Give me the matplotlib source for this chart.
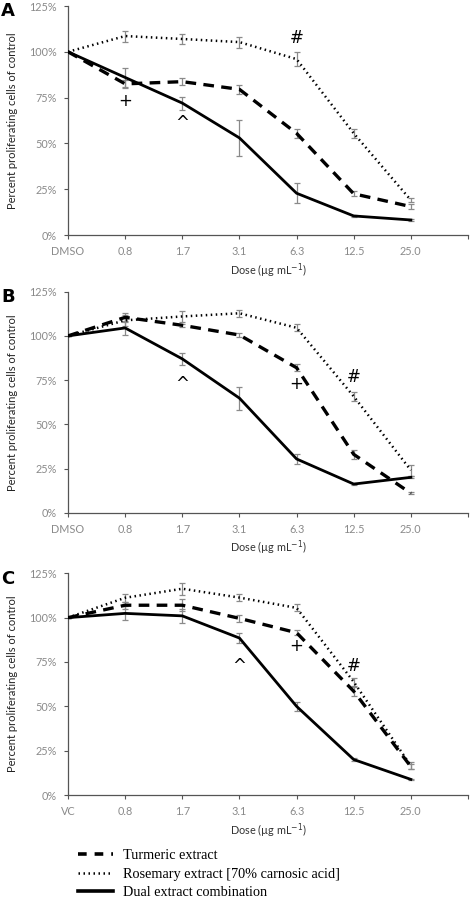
import matplotlib.pyplot as plt
import numpy as np
from matplotlib.lines import Line2D

plt.rcParams['font.family'] = ['Lato', 'DejaVu Sans']

doses = ['0.8', '1.7', '3.1', '6.3', '12.5', '25.0']
controls = ['DMSO', 'DMSO', 'VC']
panels = ['A', 'B', 'C']

# Turmeric extract (dashed)
turm = [
    [100, 82.5, 83.7, 79.5, 55.5, 22.5, 15.5],
    [100, 110.5, 106, 100.5, 82, 33, 11],
    [100, 107, 107, 99.6, 91.5, 58.5, 16],
]
turm_err = [
    [0, 2, 2, 2.5, 2.5, 1.3, 1.5],
    [0, 2.5, 1, 1, 2, 2.5, 0.5],
    [0, 2, 3.5, 2, 1.5, 2.5, 1.5],
]
# Rosemary extract (dotted)
rose = [
    [100, 108.6, 107, 105.3, 96, 55.5, 19],
    [100, 108.8, 111, 112.8, 104.6, 65.8, 24],
    [100, 111.2, 116.3, 111.3, 105.5, 63.8, 16.5],
]
rose_err = [
    [0, 3, 2.5, 3, 4, 2.5, 1],
    [0, 3, 3, 2, 2, 2.5, 3],
    [0, 2.2, 3.5, 2, 2, 2.2, 2],
]
# Dual extract combination (solid)
dual = [
    [100, 86, 72, 53, 22.8, 10.4, 8.2],
    [100, 104.5, 87, 64.8, 30.4, 16.2, 20],
    [100, 102.4, 101, 88.5, 50, 20, 8.8],
]
dual_err = [
    [0, 5, 3.5, 10, 5.5, 0.5, 0.5],
    [0, 4, 3.5, 6.5, 3, 0.5, 0.5],
    [0, 4, 4, 3, 2.5, 1, 0.5],
]
# significance symbols: (symbol, dose index, y %)
marks = [
    [('+', 1, 73), ('^', 2, 61), ('#', 4, 107.5)],
    [('^', 2, 73), ('+', 4, 73), ('#', 5, 76.5)],
    [('^', 3, 73), ('+', 4, 84), ('#', 5, 73)],
]

W, H = 472, 899
fig = plt.figure(figsize=(W / 100, H / 100), dpi=100)
boxes = [(6, 235), (291.7, 512.7), (573.3, 795)]
grey = '#8a8a8a'

for i, (top, bot) in enumerate(boxes):
    ax = fig.add_axes([68 / W, 1 - bot / H, (468 - 68) / W, (bot - top) / H])
    x = np.arange(len(doses) + 1)
    for y, e in [(turm[i], turm_err[i]), (rose[i], rose_err[i]), (dual[i], dual_err[i])]:
        ax.errorbar(x, y, yerr=e, fmt='none', ecolor=grey, elinewidth=0.9,
                    capsize=2, capthick=0.9, zorder=2)
    ax.plot(x, turm[i], color='black', lw=2.4, dashes=(3.2, 2.2), zorder=3)
    ax.plot(x, rose[i], color='black', lw=1.8, dashes=(0.6, 1.4), zorder=3)
    ax.plot(x, dual[i], color='black', lw=2.0, zorder=3)
    for sym, k, yy in marks[i]:
        ax.text(k, yy, sym, ha='center', va='center', fontsize=12,
                family='DejaVu Sans', color='black')

    ax.set_xlim(0, 7)
    ax.set_ylim(0, 125)
    ax.set_xticks(np.arange(8))
    ax.set_xticklabels([controls[i]] + doses + [''])
    ax.set_yticks([0, 25, 50, 75, 100, 125])
    ax.set_yticklabels(['0%', '25%', '50%', '75%', '100%', '125%'])
    ax.tick_params(labelsize=7.8, labelcolor=grey, color='#555555', length=3, width=0.8)
    ax.tick_params(axis='x', pad=5)
    ax.tick_params(axis='y', pad=5)
    for s in ['top', 'right']:
        ax.spines[s].set_visible(False)
    for s in ['left', 'bottom']:
        ax.spines[s].set_color('#555555')
        ax.spines[s].set_linewidth(0.9)
    ax.set_xlabel('Dose (\u00b5g mL$^{-1}$)', fontsize=7.8, color='#333333', labelpad=3)
    ax.set_ylabel('Percent proliferating cells of control', fontsize=8, color='#222222')
    ax.yaxis.set_label_coords(-0.125, 0.5)
    fig.text(1 / W, 1 - (top + 5.5) / H, panels[i], fontsize=13, fontweight='bold',
             family='DejaVu Sans', va='center', ha='left')

handles = [
    Line2D([], [], color='black', lw=2.6, dashes=(2.4, 2.2)),
    Line2D([], [], color='black', lw=1.8, dashes=(0.6, 1.4)),
    Line2D([], [], color='black', lw=2.6),
]
labels = ['Turmeric extract', 'Rosemary extract [70% carnosic acid]', 'Dual extract combination']
fig.legend(handles, labels, loc='upper left', bbox_to_anchor=(65 / W, 1 - 836 / H),
           frameon=False, handlelength=2.45, handletextpad=0.7, labelspacing=0.4,
           prop={'family': 'Liberation Serif', 'size': 10.3})

fig.savefig('out.png', dpi=100)
